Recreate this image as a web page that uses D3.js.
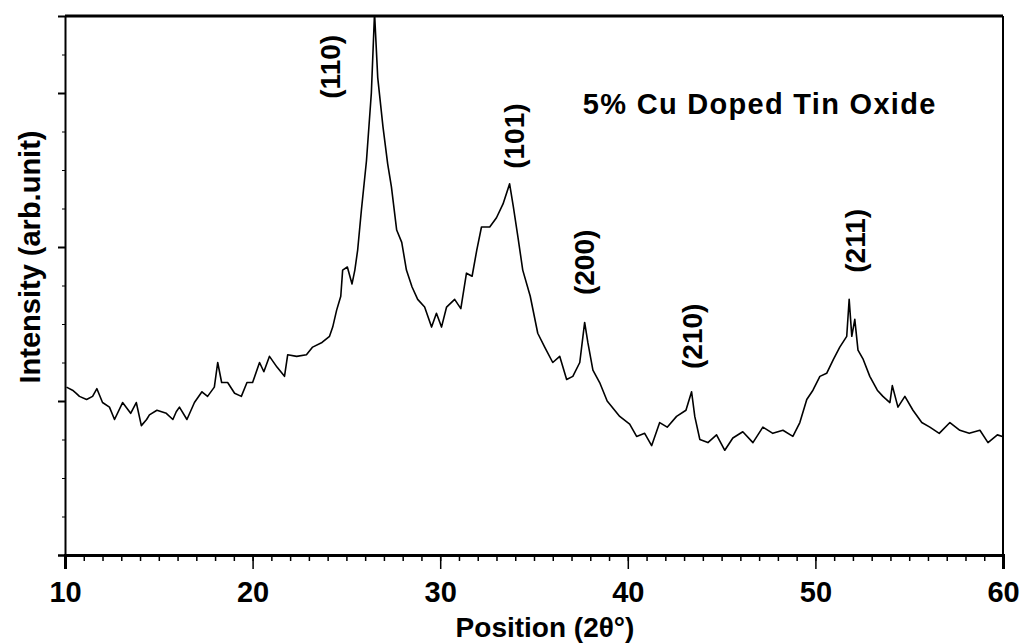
<!DOCTYPE html>
<html>
<head>
<meta charset="utf-8">
<script src="https://cdn.jsdelivr.net/npm/d3@7"></script>
<style>
  body { margin: 0; background: #fff; }
  text { font-family: "Liberation Sans", Arial, sans-serif; fill: #000; }
</style>
</head>
<body>
<div id="content"></div>
<script>
// XRD pattern (2-theta in degrees, intensity in arb. units).
var twoTheta = [
  10.08, 10.4, 10.6, 10.77, 11.15, 11.47, 11.7, 12.0, 12.37, 12.64,
  13.07, 13.5, 13.8, 14.07, 14.35, 14.5, 14.9, 15.4, 15.75, 15.93,
  16.1, 16.5, 16.9, 17.3, 17.6, 17.96, 18.14, 18.35, 18.67, 19.04,
  19.4, 19.7, 20.0, 20.37, 20.6, 20.9, 21.3, 21.7, 21.87, 22.35,
  22.87, 23.2, 23.7, 24.1, 24.27, 24.48, 24.7, 24.8, 25.05, 25.3,
  25.45, 25.6, 25.8, 26.07, 26.33, 26.5, 26.67, 26.95, 27.2, 27.4,
  27.68, 27.95, 28.2, 28.5, 28.8, 29.17, 29.54, 29.8, 30.07, 30.34,
  30.77, 31.1, 31.4, 31.7, 31.95, 32.2, 32.64, 33.0, 33.35, 33.7,
  33.9, 34.15, 34.4, 34.8, 35.2, 35.57, 36.0, 36.37, 36.74, 37.07,
  37.44, 37.7, 37.87, 38.14, 38.5, 38.9, 39.3, 39.57, 40.1, 40.47,
  40.9, 41.27, 41.7, 42.1, 42.6, 43.1, 43.4, 43.57, 43.84, 44.27,
  44.73, 45.17, 45.6, 46.13, 46.67, 47.2, 47.73, 48.27, 48.8, 49.17,
  49.54, 49.87, 50.24, 50.6, 50.96, 51.3, 51.67, 51.8, 51.94, 52.1,
  52.27, 52.55, 52.9, 53.3, 53.6, 53.97, 54.1, 54.4, 54.77, 55.2,
  55.67, 56.1, 56.6, 57.17, 57.7, 58.2, 58.77, 59.2, 59.7, 59.97
];
var intensity = [
  109, 107, 105, 103, 101, 103, 108, 99, 96, 88,
  99, 92, 99, 84, 88, 91, 94, 92, 88, 93,
  96, 88, 99, 106, 103, 109, 125, 112, 112, 105,
  103, 112, 112, 125, 119, 129, 122, 116, 130, 129,
  130, 135, 138, 142, 148, 159, 168, 185, 187, 176,
  185, 198, 224, 256, 300, 352, 310, 278, 254, 239,
  211, 203, 185, 174, 166, 161, 148, 157, 148, 161,
  166, 160, 183, 181, 198, 213, 213, 219, 228, 241,
  226, 206, 185, 168, 144, 135, 125, 129, 114, 116,
  125, 151, 138, 120, 112, 100, 94, 90, 85, 77,
  79, 71, 86, 83, 90, 94, 106, 90, 75, 73,
  78, 68, 76, 80, 73, 83, 79, 81, 77, 86,
  101, 107, 116, 118, 127, 135, 142, 166, 142, 153,
  133, 127, 116, 107, 103, 99, 110, 96, 103, 94,
  86, 83, 79, 86, 81, 79, 81, 73, 78, 77
];

// Peak labels (Miller indices) and where they sit (2-theta, intensity).
var peakLabels = ["(110)", "(101)", "(200)", "(210)", "(211)"];
var peakLabelX = [24.15, 33.95, 37.65, 43.45, 52.1];
var peakLabelY = [317, 272, 190, 142, 204];

var xTicks = [10, 20, 30, 40, 50, 60];
var yTicks = [0, 100, 200, 300];
var title = "5% Cu Doped Tin Oxide";

var data = twoTheta.map(function(t, i) { return {x : t, y : intensity[i]}; });

// Main SVG container.
var margin = {left : 65, right : 25, top : 16, bottom : 88};
var width = 1028 - margin.left - margin.right;
var height = 643 - margin.top - margin.bottom;
var svg = d3.select('#content')
              .append('svg')
              .attr('width', 1028)
              .attr('height', 643);

var g = svg.append('g').attr('transform', 'translate(' + margin.left + ',' +
                                              margin.top + ')');

var scaleX = d3.scaleLinear().domain([ 10, 60 ]).range([ 0, width ]);
var scaleY = d3.scaleLinear().domain([ 0, 350 ]).range([ height, 0 ]);

// Clip so the (110) peak is cut by the top frame.
g.append('clipPath').attr('id', 'clip')
    .append('rect').attr('width', width).attr('height', height);

// Minor ticks on the x axis.
g.append('g')
    .attr('transform', 'translate(0,' + height + ')')
    .call(d3.axisBottom(scaleX).tickValues(d3.range(10, 61, 1))
              .tickSize(6).tickFormat(''))
    .call(function(a) { a.select('.domain').remove(); })
    .selectAll('line').attr('stroke-width', 1.5);

// X axis with labels.
var xAxis = g.append('g')
    .attr('transform', 'translate(0,' + height + ')')
    .call(d3.axisBottom(scaleX).tickValues(xTicks).tickSize(14)
              .tickPadding(12).tickFormat(d3.format('d')));
xAxis.select('.domain').attr('stroke-width', 3);
xAxis.selectAll('line').attr('stroke-width', 1.5);
xAxis.selectAll('text')
    .attr('font-size', 29)
    .attr('font-weight', 'bold')
    .attr('font-family', '"Liberation Sans", Arial, sans-serif');

// Y axis, no labels.
var yAxis = g.append('g')
    .call(d3.axisLeft(scaleY).tickValues(yTicks).tickSize(7).tickFormat(''));
yAxis.select('.domain').attr('stroke-width', 2);
yAxis.selectAll('line').attr('stroke-width', 2);

g.append('g')
    .call(d3.axisLeft(scaleY).tickValues(d3.range(0, 351, 25)).tickSize(3)
              .tickFormat(''))
    .call(function(a) { a.select('.domain').remove(); });

// Top and right frame.
g.append('line').attr('x1', 0).attr('x2', width).attr('y1', 0).attr('y2', 0)
    .attr('stroke', '#000').attr('stroke-width', 3);
g.append('line').attr('x1', width).attr('x2', width).attr('y1', 0)
    .attr('y2', height).attr('stroke', '#000').attr('stroke-width', 2);

// The pattern.
var line = d3.line()
               .x(function(d) { return scaleX(d.x); })
               .y(function(d) { return scaleY(d.y); });

g.append('path')
    .datum(data)
    .attr('clip-path', 'url(#clip)')
    .attr('d', line)
    .attr('fill', 'none')
    .attr('stroke', '#000')
    .attr('stroke-width', 1.6)
    .attr('stroke-linejoin', 'round');

// Peak labels, rotated.
g.selectAll('.peak')
    .data(peakLabels)
    .enter()
    .append('text')
    .attr('class', 'peak')
    .attr('transform', function(d, i) {
      return 'translate(' + scaleX(peakLabelX[i]) + ',' +
             scaleY(peakLabelY[i]) + ') rotate(-90)';
    })
    .attr('text-anchor', 'middle')
    .attr('dy', '0.35em')
    .attr('font-size', 28)
    .attr('font-weight', 'bold')
    .text(function(d) { return d; });

// Sample name.
g.append('text')
    .attr('x', scaleX(37.6))
    .attr('y', 98)
    .attr('font-size', 29)
    .attr('font-weight', 'bold')
    .attr('letter-spacing', 1.3)
    .text(title);

// Axis titles.
svg.append('text')
    .attr('x', 545)
    .attr('y', 637)
    .attr('text-anchor', 'middle')
    .attr('font-size', 28)
    .attr('font-weight', 'bold')
    .text('Position (2\u03b8\u00b0)');

svg.append('text')
    .attr('transform', 'translate(30,257) rotate(-90)')
    .attr('text-anchor', 'middle')
    .attr('dy', '0.35em')
    .attr('font-size', 29)
    .attr('font-weight', 'bold')
    .text('Intensity (arb.unit)');
</script>
</body>
</html>
